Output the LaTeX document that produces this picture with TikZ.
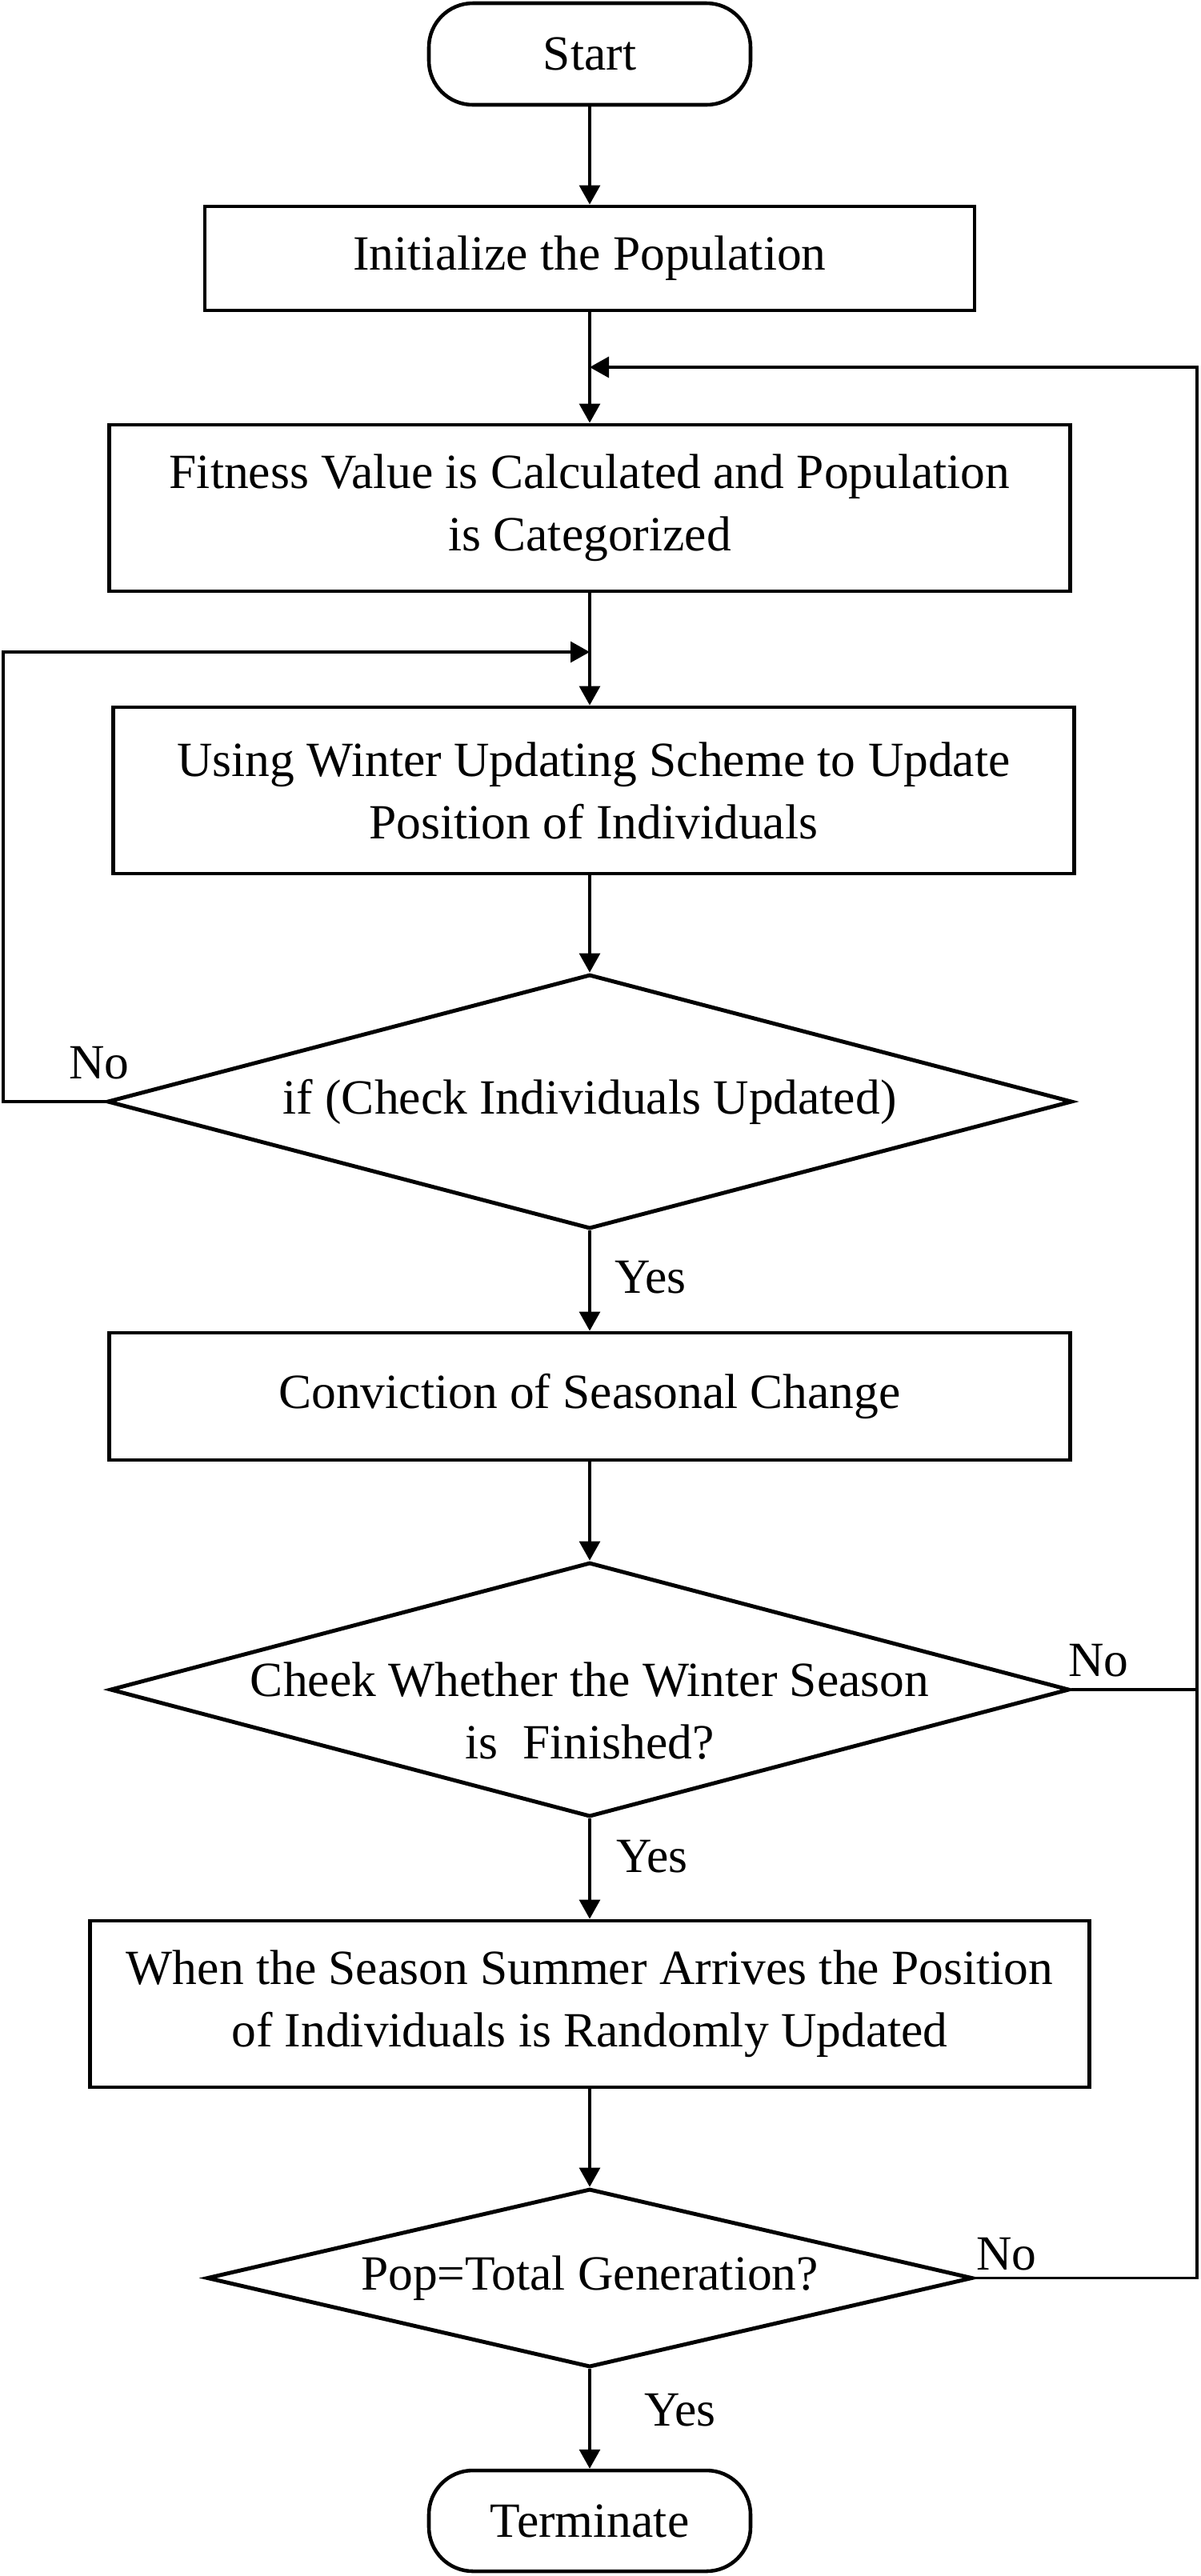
\documentclass[tikz,border=0pt]{standalone}
\usepackage{fontspec}
\setmainfont{Liberation Serif}
\usetikzlibrary{arrows.meta,shapes.geometric}

\begin{document}
\begin{tikzpicture}[
    every node/.style={font=\fontsize{17.5}{22.2}\selectfont},
    term/.style={draw, line width=1.3pt, rounded corners=0.55cm, minimum width=4.02cm, minimum height=1.27cm, inner sep=0pt},
    proc/.style={draw, line width=1.4pt, align=center, inner sep=0pt},
    decision/.style={draw, diamond, line width=1.4pt, inner sep=0pt},
    flow/.style={line width=0.9pt, -{Triangle[length=0.24cm,width=0.26cm]}},
    link/.style={line width=0.9pt}
]
\useasboundingbox (0,0) rectangle (15,-32.2);

    % main chain
    % nodes
    \node[term] (start) at (7.37,-0.675) {Start};
    \node[proc, minimum width=9.62cm, minimum height=1.30cm] (init) at (7.37,-3.23) {Initialize the Population};
    \node[proc, minimum width=12.01cm, minimum height=2.08cm] (fit) at (7.37,-6.35) {Fitness Value is Calculated and Population\\is Categorized};
    \node[proc, minimum width=12.01cm, minimum height=2.08cm] (winter) at (7.42,-9.88) {Using Winter Updating Scheme to Update\\Position of Individuals};
    \node[decision, aspect=3.79, minimum width=12.06cm, minimum height=3.18cm] (chk) at (7.37,-13.77) {if (Check Individuals Updated)};
    \node[proc, minimum width=12.01cm, minimum height=1.59cm] (conv) at (7.37,-17.455) {Conviction of Seasonal Change};
    \node[decision, aspect=3.77, minimum width=11.99cm, minimum height=3.18cm] (season) at (7.37,-21.12) {};
    \node[align=center] (seasontxt) at (7.37,-21.39) {Cheek Whether the Winter Season\\is~~Finished?};
    \node[proc, minimum width=12.49cm, minimum height=2.08cm] (summer) at (7.37,-25.05) {When the Season Summer Arrives the Position\\of Individuals is Randomly Updated};
    \node[decision, aspect=4.29, minimum width=9.57cm, minimum height=2.23cm] (gen) at (7.37,-28.475) {Pop=Total Generation?};
    \node[term, minimum height=1.26cm] (stop) at (7.37,-31.51) {Terminate};

    % paths
    \draw[flow] (start) -- (init); % start -> init
    \draw[flow] (init) -- (fit); % init -> fitness
    \draw[flow] (fit) -- (fit.south |- winter.north); % fitness -> winter
    \draw[flow] (fit.south |- winter.south) -- (chk); % winter -> check
    \draw[flow] (chk) -- (conv); % check -> conviction
    \draw[flow] (conv) -- (season); % conviction -> season
    \draw[flow] (season) -- (summer); % season -> summer
    \draw[flow] (summer) -- (gen); % summer -> generation
    \draw[flow] (gen) -- (stop); % generation -> terminate

    % loops
    \coordinate (ltop) at (0.04,-8.15);
    \coordinate (ljoin) at (7.37,-8.15);
    \coordinate (rtop) at (14.96,-4.59);
    \coordinate (rjoin) at (7.37,-4.59);
    \draw[flow] (chk.west) -| (ltop) -- (ljoin); % check -> winter
    \draw[link] (season.east) -- (season.east -| rtop); % season -> loop
    \draw[flow] (gen.east) -| (rtop) -- (rjoin); % generation -> fitness

    % labels
    \node (no1) at (1.24,-13.29) {No};
    \node (yes1) at (8.13,-15.97) {Yes};
    \node (no2) at (13.73,-20.76) {No};
    \node (yes2) at (8.15,-23.21) {Yes};
    \node (no3) at (12.58,-28.18) {No};
    \node (yes3) at (8.50,-30.13) {Yes};

\end{tikzpicture}
\end{document}
